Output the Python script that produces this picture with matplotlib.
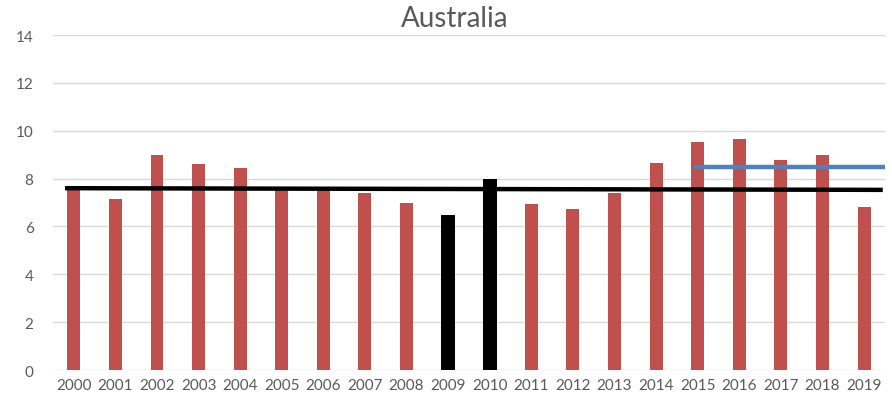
import matplotlib.pyplot as plt
import numpy as np

plt.rcParams['font.family'] = ['Lato', 'DejaVu Sans']

# 数据
years = [str(y) for y in range(2000, 2020)]
values = [7.6, 7.15, 8.97, 8.62, 8.44, 7.55, 7.52, 7.41, 7.0, 6.49,
          8.0, 6.92, 6.72, 7.41, 8.65, 9.53, 9.67, 8.79, 9.0, 6.83]
highlight_years = ['2009', '2010']
avg_line = [7.6, 7.53]          # 黑色长线 (左端, 右端)
recent_avg = 8.49               # 蓝色线 2015-2019
recent_start = '2015'

fig = plt.figure(figsize=(8.92, 4.10), dpi=100)
ax = fig.add_axes([0.0594, 0.0951, 0.9326, 0.8169])

x = np.arange(len(years))
red_x = [i for i, y in enumerate(years) if y not in highlight_years]
blk_x = [i for i, y in enumerate(years) if y in highlight_years]
ax.bar(red_x, [values[i] for i in red_x], width=0.31, color='#C0504D', zorder=2)
ax.bar(blk_x, [values[i] for i in blk_x], width=0.34, color='black', zorder=2)

# 平均线
ax.plot([-0.21, 19.45], avg_line, color='black', lw=3.2, solid_capstyle='butt', zorder=4)
s = years.index(recent_start)
ax.plot([s - 0.1, 19.5], [recent_avg, recent_avg], color='#4F81BD', lw=3.2,
        solid_capstyle='butt', zorder=4)

ax.set_xlim(-0.5, 19.5)
ax.set_ylim(0, 14)
ax.set_xticks(x)
ax.set_xticklabels(years)
ax.set_yticks(range(0, 15, 2))
ax.grid(axis='y', color='#D9D9D9', lw=1, zorder=0)
ax.set_axisbelow(True)
for sp in ax.spines.values():
    sp.set_visible(False)
ax.tick_params(length=0, colors='#595959', labelsize=11)
ax.tick_params(axis='y', pad=14)
ax.tick_params(axis='x', pad=6)

fig.text(0.51, 0.953, 'Australia', ha='center', va='center', fontsize=20, color='#595959')

plt.savefig('out.png', dpi=100)
